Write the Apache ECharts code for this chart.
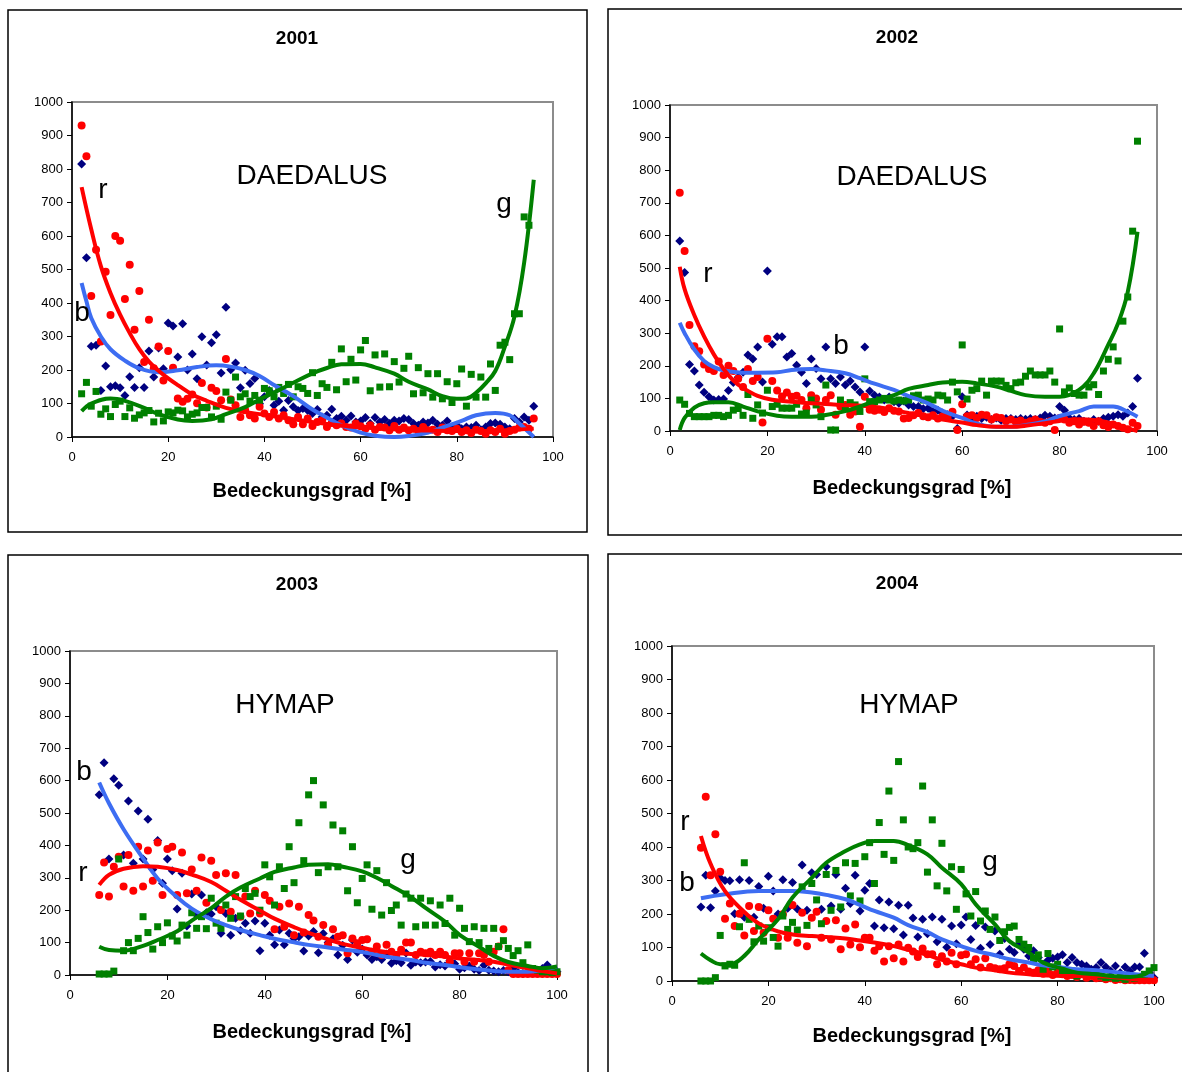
<!DOCTYPE html>
<html>
<head>
<meta charset="utf-8">
<script src="https://cdn.jsdelivr.net/npm/echarts@6/dist/echarts.min.js"></script>
<style>
html,body{margin:0;padding:0;background:#fff;}
#c{width:1182px;height:1072px;}
</style>
</head>
<body>
<div id="c"></div>
<script>
// ---------------- DATA ----------------
const panelTitles = ['2001', '2002', '2003', '2004'];
const sensorNames = ['DAEDALUS', 'DAEDALUS', 'HYMAP', 'HYMAP'];
const xAxisTitle = 'Bedeckungsgrad [%]';
const xTicks = [0, 20, 40, 60, 80, 100];
const yTicks = [0, 100, 200, 300, 400, 500, 600, 700, 800, 900, 1000];

// x positions of the samples (Bedeckungsgrad %)
const xsDaedalus = [2,3,4,5,6,7,8,9,10,11,12,13,14,15,16,17,18,19,20,21,22,23,24,25,26,27,28,29,30,31,32,33,34,35,36,37,38,39,40,41,42,43,44,45,46,47,48,49,50,51,52,53,54,55,56,57,58,59,60,61,62,63,64,65,66,67,68,69,70,71,72,73,74,75,76,77,78,79,80,81,82,83,84,85,86,87,88,89,90,91,92,93,94,95,96];
const xsHymap = [6,7,8,9,10,11,12,13,14,15,16,17,18,19,20,21,22,23,24,25,26,27,28,29,30,31,32,33,34,35,36,37,38,39,40,41,42,43,44,45,46,47,48,49,50,51,52,53,54,55,56,57,58,59,60,61,62,63,64,65,66,67,68,69,70,71,72,73,74,75,76,77,78,79,80,81,82,83,84,85,86,87,88,89,90,91,92,93,94,95,96,97,98,99,100];

// 2001
const blue2001 = [815,535,271,274,139,212,150,153,
  147,124,180,148,207,148,257,179,266,204,
  340,331,239,338,200,248,174,299,215,281,
  305,191,387,201,221,147,199,160,175,99,
  120,139,95,107,80,109,90,79,85,79,
  70,82,60,65,83,55,62,50,63,45,
  48,58,40,58,45,52,40,50,48,55,
  52,40,35,45,42,50,38,35,48,30,
  35,25,30,28,35,22,30,40,42,38,
  30,25,55,45,60,50,92];
const red2001 = [930,838,421,559,285,493,364,600,
  586,412,514,320,436,224,350,205,270,169,
  257,207,115,105,114,127,101,161,88,147,
  137,110,233,112,95,60,80,65,55,90,
  70,60,75,55,65,50,38,60,38,55,
  33,45,50,30,42,35,40,30,28,40,
  32,25,35,22,30,28,20,33,22,28,
  20,25,18,30,20,22,15,28,20,18,
  25,15,20,12,22,18,10,20,15,25,
  10,18,22,28,30,25,55];
const green2001 = [129,163,92,136,68,84,61,97,
  107,61,87,56,66,72,79,45,71,48,
  75,72,80,78,60,68,72,88,88,60,
  92,53,134,110,179,120,129,107,124,110,
  145,138,120,148,130,157,120,150,145,130,
  192,124,159,148,223,141,263,165,232,170,
  260,288,138,245,149,248,150,225,164,205,
  241,129,207,132,189,119,189,114,165,103,
  159,203,92,187,119,179,119,218,139,274,
  283,231,368,368,657,632,null];

// 2002
const blue2002 = [583,486,204,184,141,119,105,95,
  97,98,124,149,165,180,233,221,258,150,
  491,266,289,289,227,238,202,180,146,221,
  192,160,258,160,146,166,141,153,135,120,
  258,123,110,104,95,104,90,85,92,80,
  75,75,68,70,60,64,55,50,45,8,
  105,49,40,45,38,42,35,40,33,38,
  38,35,38,36,38,35,40,48,45,40,
  75,64,40,35,38,30,28,35,30,38,
  42,45,50,45,55,75,162];
const red2002 = [731,552,325,260,245,204,190,184,
  213,172,200,184,160,135,190,153,166,26,
  283,153,124,106,118,105,108,95,70,110,
  100,65,95,110,50,75,80,50,60,13,
  105,65,62,65,58,70,62,60,38,40,
  48,55,45,42,48,38,45,40,59,3,
  82,45,48,40,50,48,35,42,40,30,
  35,28,32,25,30,35,28,25,30,3,
  40,35,25,30,20,28,25,15,30,18,
  12,20,15,10,5,25,15];
const green2002 = [95,82,54,44,44,44,44,48,
  48,44,48,64,69,48,112,39,80,55,
  125,75,82,70,70,70,82,52,55,95,
  80,44,141,3,3,95,75,87,80,60,
  160,90,90,95,100,95,92,95,92,95,
  108,110,95,98,95,110,108,95,150,120,
  264,98,125,130,153,110,153,153,153,140,
  130,148,150,168,184,172,172,172,184,150,
  313,120,132,115,110,110,135,142,112,184,
  220,258,215,337,411,613,889];

// 2003
const blue2003 = [556,655,358,606,
  586,370,537,345,506,358,481,326,415,283,
  358,322,204,314,151,250,185,247,192,188,
  211,129,190,123,175,137,160,129,167,75,
  160,123,93,139,93,129,113,118,74,120,
  134,69,128,100,112,62,92,48,108,70,
  80,62,48,56,48,65,36,44,38,68,
  30,40,38,40,42,25,32,28,45,35,
  18,22,28,18,14,30,15,12,10,14,
  10,20,8,5,10,12,15,20,31,10,10];
const red2003 = [247,347,242,334,
  365,273,370,260,396,273,384,291,409,247,
  389,396,247,378,252,326,260,363,223,353,
  309,201,314,195,309,180,242,190,260,190,
  247,229,141,211,149,221,123,211,131,185,
  168,118,154,93,141,118,123,67,113,98,
  108,110,72,88,62,93,72,62,78,100,
  100,62,72,67,72,62,72,62,41,67,
  67,41,67,41,67,62,41,72,88,141,
  15,3,3,3,3,3,3,3,3,3,3];
const green2003 = [3,3,3,12,
  358,75,100,75,113,180,131,80,149,100,
  161,120,105,154,123,192,144,180,143,237,
  160,144,216,175,242,182,267,242,252,200,
  340,303,216,334,267,396,285,470,353,556,
  600,316,525,334,463,334,445,260,396,223,
  298,340,203,322,185,285,199,216,154,250,
  237,149,237,154,229,154,216,159,237,123,
  206,144,103,149,100,144,82,144,88,106,
  82,60,75,38,93,20,15,10,10,8,10];

// 2004
const blue2004 = [221,316,219,269,
  308,300,299,201,302,190,300,190,282,217,
  313,269,200,302,217,294,215,346,211,323,
  318,214,341,224,318,214,277,231,316,209,
  271,291,164,242,159,236,156,226,137,226,
  188,131,184,141,191,117,184,101,164,111,
  167,191,124,166,98,161,109,149,80,127,
  95,85,111,95,75,90,70,50,62,68,
  72,78,55,70,55,50,45,35,40,55,
  42,30,45,25,42,30,42,42,83,25,10];
const red2004 = [398,550,316,438,
  326,186,231,164,201,136,224,149,221,144,
  211,186,129,199,129,227,114,204,104,189,
  207,129,179,124,181,95,157,109,169,101,
  129,129,90,104,58,104,68,109,58,99,
  88,72,97,80,80,50,74,58,84,50,
  77,80,50,65,40,68,42,38,35,38,
  50,45,30,40,28,25,32,22,30,18,
  25,20,15,18,12,20,10,15,8,10,
  5,8,3,5,2,3,2,2,2,2,2];
const green2004 = [0,0,0,10,
  136,45,50,47,162,353,184,117,164,119,
  159,130,104,194,154,175,152,281,166,291,
  242,171,318,211,330,221,353,254,351,239,
  371,413,291,473,378,567,360,655,481,400,
  395,413,582,325,481,284,411,269,341,214,
  333,260,194,267,179,209,154,191,121,147,
  160,164,124,110,100,65,78,35,82,42,
  50,30,25,30,15,20,25,25,20,15,
  10,12,8,10,5,10,8,12,20,30,40];

// trend lines: [x, y]
const trendBlue2001 = [[2,460],[3,405],[4,355],[6,300],[8,262],[11,228],[14,205],[18,193],[22,199],[26,209],[30,214],[33,210],[36,200],[39,182],[42,155],[46,122],[50,82],[53,58],[56,35],[60,13],[63,4],[67,0],[70,3],[74,13],[77,28],[81,48],[84,65],[88,72],[91,65],[93,40],[96,0]];
const trendRed2001 = [[2,746],[4,620],[6,510],[8,430],[10,365],[12,310],[14,262],[16,225],[18,198],[20,175],[22,155],[25,127],[28,108],[32,87],[36,75],[40,66],[45,55],[50,45],[55,36],[60,29],[65,25],[70,21],[75,19],[80,18],[85,18],[90,20],[96,25]];
const trendGreen2001 = [[2,77],[4,100],[8,115],[11,108],[15,87],[18,68],[22,52],[25,48],[29,53],[32,68],[36,89],[39,112],[43,140],[46,162],[50,190],[53,206],[56,217],[60,218],[63,208],[67,189],[70,165],[74,142],[77,122],[80,114],[82,115],[84,132],[86,160],[88,197],[90,270],[92,360],[94,520],[96,768]];

const trendBlue2002 = [[2,332],[3,300],[5,250],[7,215],[9,196],[11,186],[15,179],[18,179],[22,180],[25,187],[29,190],[32,186],[36,177],[39,162],[42,145],[46,126],[49,107],[53,85],[56,62],[60,40],[63,23],[67,13],[70,13],[73,18],[77,29],[80,46],[84,61],[87,75],[91,75],[94,59],[96,44]];
const trendRed2002 = [[2,504],[3,435],[5,355],[7,290],[9,235],[11,190],[13,155],[15,132],[18,108],[21,96],[25,90],[30,84],[35,80],[40,77],[43,72],[46,64],[49,55],[53,44],[56,35],[60,26],[63,18],[67,13],[70,13],[73,16],[77,24],[80,31],[84,36],[87,34],[90,26],[94,8],[96,0]];
const trendGreen2002 = [[2,3],[3,40],[5,72],[7,85],[9,88],[12,88],[15,75],[18,60],[22,47],[25,44],[29,44],[32,49],[36,61],[39,75],[42,92],[46,110],[49,129],[53,141],[56,149],[60,151],[63,146],[67,136],[70,123],[73,110],[77,105],[80,105],[84,126],[87,177],[90,265],[92,330],[94,427],[96,611]];

const trendBlue2003 = [[6,594],[8,530],[11,450],[15,360],[18,298],[22,240],[25,205],[29,172],[32,154],[35,139],[39,123],[42,112],[46,101],[49,93],[53,85],[56,79],[60,71],[63,62],[66,54],[70,46],[73,38],[77,31],[80,24],[84,17],[87,12],[90,10],[94,10],[97,15],[100,26]];
const trendRed2003 = [[6,278],[8,309],[11,328],[15,336],[18,334],[22,324],[25,310],[29,287],[32,260],[35,232],[39,199],[42,174],[46,148],[49,130],[53,110],[56,96],[60,84],[63,75],[66,69],[70,65],[73,62],[77,57],[80,51],[84,46],[87,41],[90,32],[94,21],[97,12],[100,5]];
const trendGreen2003 = [[6,87],[8,77],[11,75],[15,90],[18,108],[22,135],[25,168],[29,206],[32,242],[35,270],[39,298],[42,318],[46,332],[49,340],[53,342],[56,334],[60,320],[63,300],[66,275],[70,240],[73,207],[77,165],[80,124],[84,87],[87,59],[90,40],[94,28],[97,21],[100,26]];

const trendBlue2004 = [[6,247],[11,259],[18,269],[25,269],[29,264],[32,257],[36,244],[39,227],[42,209],[46,189],[49,167],[53,146],[56,124],[60,104],[63,90],[67,77],[70,65],[74,55],[77,47],[81,40],[84,35],[88,32],[91,28],[95,22],[100,15]];
const trendRed2004 = [[6,433],[8,350],[11,268],[15,206],[18,172],[22,148],[25,139],[29,134],[32,131],[36,127],[39,121],[42,115],[46,104],[49,93],[53,78],[56,63],[60,50],[63,40],[67,32],[70,25],[74,20],[77,17],[81,15],[84,15],[88,15],[91,12],[95,7],[100,0]];
const trendGreen2004 = [[6,82],[8,62],[10,50],[12,50],[15,75],[18,124],[22,184],[25,249],[29,308],[32,353],[36,388],[39,408],[42,418],[46,418],[49,406],[53,378],[56,338],[60,289],[63,229],[67,169],[70,119],[74,85],[77,55],[81,37],[84,25],[88,20],[91,15],[95,12],[98,20],[100,40]];

// ---------------- LAYOUT / STYLE ----------------
const FONT = '"Liberation Sans", Arial, sans-serif';
const C_BLUE_PT = '#000080', C_RED = '#ff0000', C_GREEN = '#008000', C_BLUE_LN = '#3d6df2';

const grids = [
  {left: 72, top: 102, width: 481, height: 335},
  {left: 670, top: 105, width: 487, height: 326},
  {left: 70, top: 651, width: 487, height: 324},
  {left: 672, top: 646, width: 482, height: 335}
];
const panelBoxes = [
  {x: 8, y: 10, w: 579, h: 522},
  {x: 608, y: 9, w: 600, h: 526},
  {x: 8, y: 555, w: 580, h: 540},
  {x: 608, y: 554, w: 600, h: 540}
];
const titlePos = [[297, 39], [897, 38], [297, 585], [897, 584]];
const xTitlePos = [[312, 491], [912, 488], [312, 1032], [912, 1036]];
const sensorPos = [[312, 176], [912, 177], [285, 705], [909, 705]];
const letterLabels = [
  [['r', 103, 190], ['b', 82, 313], ['g', 504, 204]],
  [['r', 708, 274], ['b', 841, 346]],
  [['b', 84, 772], ['r', 83, 873], ['g', 408, 860]],
  [['r', 685, 822], ['b', 687, 883], ['g', 990, 862]]
];

const panels = [
  {xs: xsDaedalus, b: blue2001, r: red2001, g: green2001, tb: trendBlue2001, tr: trendRed2001, tg: trendGreen2001},
  {xs: xsDaedalus, b: blue2002, r: red2002, g: green2002, tb: trendBlue2002, tr: trendRed2002, tg: trendGreen2002},
  {xs: xsHymap, b: blue2003, r: red2003, g: green2003, tb: trendBlue2003, tr: trendRed2003, tg: trendGreen2003},
  {xs: xsHymap, b: blue2004, r: red2004, g: green2004, tb: trendBlue2004, tr: trendRed2004, tg: trendGreen2004}
];

function pts(xs, ys) {
  const out = [];
  for (let i = 0; i < xs.length; i++) if (ys[i] != null) out.push([xs[i], ys[i]]);
  return out;
}

const option = {
  animation: false,
  backgroundColor: '#ffffff',
  grid: [], xAxis: [], yAxis: [], series: [], graphic: []
};

panels.forEach((p, i) => {
  option.grid.push(Object.assign({show: true, borderColor: '#8c8c8c', borderWidth: 2, backgroundColor: 'transparent', containLabel: false}, grids[i]));
  option.xAxis.push({
    type: 'value', gridIndex: i, min: xTicks[0], max: xTicks[xTicks.length - 1], interval: xTicks[1] - xTicks[0],
    axisLine: {show: true, onZero: false, lineStyle: {color: '#000', width: 1.5}},
    axisTick: {show: true, length: 5, lineStyle: {color: '#000', width: 1}},
    axisLabel: {margin: 14, fontSize: 13, color: '#000', fontFamily: FONT, formatter: v => String(v)},
    splitLine: {show: false}
  });
  option.yAxis.push({
    type: 'value', gridIndex: i, min: yTicks[0], max: yTicks[yTicks.length - 1], interval: yTicks[1] - yTicks[0],
    axisLine: {show: true, onZero: false, lineStyle: {color: '#000', width: 1.5}},
    axisTick: {show: true, length: 5, lineStyle: {color: '#000', width: 1}},
    axisLabel: {margin: 9, fontSize: 13, color: '#000', fontFamily: FONT, formatter: v => String(v)},
    splitLine: {show: false}
  });
  const common = {xAxisIndex: i, yAxisIndex: i, clip: true, silent: true};
  option.series.push(Object.assign({type: 'scatter', name: 'b' + i, data: pts(p.xs, p.b), symbol: 'diamond', symbolSize: 9, itemStyle: {color: C_BLUE_PT, opacity: 1}, z: 2}, common));
  option.series.push(Object.assign({type: 'scatter', name: 'r' + i, data: pts(p.xs, p.r), symbol: 'circle', symbolSize: 8, itemStyle: {color: C_RED, opacity: 1}, z: 3}, common));
  option.series.push(Object.assign({type: 'scatter', name: 'g' + i, data: pts(p.xs, p.g), symbol: 'rect', symbolSize: 7, itemStyle: {color: C_GREEN, opacity: 1}, z: 4}, common));
  option.series.push(Object.assign({type: 'line', name: 'tb' + i, data: p.tb, smooth: 0.4, showSymbol: false, lineStyle: {color: C_BLUE_LN, width: 4}, z: 5}, common));
  option.series.push(Object.assign({type: 'line', name: 'tr' + i, data: p.tr, smooth: 0.4, showSymbol: false, lineStyle: {color: C_RED, width: 4}, z: 6}, common));
  option.series.push(Object.assign({type: 'line', name: 'tg' + i, data: p.tg, smooth: 0.4, showSymbol: false, lineStyle: {color: C_GREEN, width: 4}, z: 7}, common));

  const bx = panelBoxes[i];
  option.graphic.push({type: 'rect', z: -10, shape: {x: bx.x, y: bx.y, width: bx.w, height: bx.h}, style: {fill: 'none', stroke: '#000', lineWidth: 1.5}});
  option.graphic.push({type: 'text', x: titlePos[i][0], y: titlePos[i][1], style: {text: panelTitles[i], font: 'bold 19px ' + FONT, fill: '#000', textAlign: 'center', textVerticalAlign: 'middle'}});
  option.graphic.push({type: 'text', x: xTitlePos[i][0], y: xTitlePos[i][1], style: {text: xAxisTitle, font: 'bold 20px ' + FONT, fill: '#000', textAlign: 'center', textVerticalAlign: 'middle'}});
  option.graphic.push({type: 'text', z: 20, x: sensorPos[i][0], y: sensorPos[i][1], style: {text: sensorNames[i], font: '28px ' + FONT, fill: '#000', textAlign: 'center', textVerticalAlign: 'middle'}});
  letterLabels[i].forEach(l => {
    option.graphic.push({type: 'text', z: 20, x: l[1], y: l[2], style: {text: l[0], font: '28px ' + FONT, fill: '#000', textAlign: 'center', textVerticalAlign: 'middle'}});
  });
});

const chart = echarts.init(document.getElementById('c'), null, {renderer: 'canvas'});
chart.setOption(option);
</script>
</body>
</html>
